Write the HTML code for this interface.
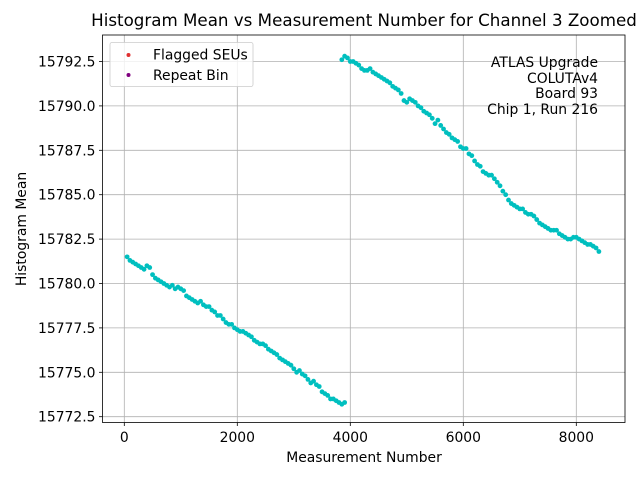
<!DOCTYPE html>
<html><head><meta charset="utf-8"><style>
body{margin:0;background:#fff;font-family:"DejaVu Sans","Liberation Sans",sans-serif;}
svg text{font-family:"DejaVu Sans","Liberation Sans",sans-serif;}
</style></head><body>
<svg id="chart" width="640" height="480" xmlns="http://www.w3.org/2000/svg" style="position:absolute;left:0;top:0">
<rect width="640" height="480" fill="#fff"/>
<g id="grid"></g><g id="marks"></g><g id="axes"></g>
</svg>
<script>
const xTicks=[0,2000,4000,6000,8000];
const xTickLabels=["0","2000","4000","6000","8000"];
const yTicks=[15772.5,15775.0,15777.5,15780.0,15782.5,15785.0,15787.5,15790.0,15792.5];
const yTickLabels=["15772.5","15775.0","15777.5","15780.0","15782.5","15785.0","15787.5","15790.0","15792.5"];
const seg1X=[50,100,150,200,250,300,350,400,450,500,550,600,650,700,750,800,850,900,950,1000,1050,1100,1150,1200,1250,1300,1350,1400,1450,1500,1550,1600,1650,1700,1750,1800,1850,1900,1950,2000,2050,2100,2150,2200,2250,2300,2350,2400,2450,2500,2550,2600,2650,2700,2750,2800,2850,2900,2950,3000,3050,3100,3150,3200,3250,3300,3350,3400,3450,3500,3550,3600,3650,3700,3750,3800,3850,3900];
const seg1Y=[15781.5,15781.3,15781.2,15781.1,15781.0,15780.9,15780.8,15781.0,15780.9,15780.5,15780.3,15780.2,15780.1,15780.0,15779.9,15779.8,15779.9,15779.7,15779.8,15779.7,15779.6,15779.3,15779.2,15779.1,15779.0,15778.9,15779.0,15778.8,15778.7,15778.7,15778.5,15778.4,15778.2,15778.2,15778.0,15777.8,15777.7,15777.7,15777.5,15777.4,15777.3,15777.3,15777.2,15777.1,15777.0,15776.8,15776.7,15776.6,15776.6,15776.5,15776.3,15776.2,15776.1,15776.0,15775.8,15775.7,15775.6,15775.5,15775.4,15775.2,15775.0,15775.1,15774.9,15774.8,15774.6,15774.4,15774.5,15774.3,15774.2,15773.9,15773.8,15773.7,15773.5,15773.5,15773.4,15773.3,15773.2,15773.3];
const seg2X=[3850,3900,3950,4000,4050,4100,4150,4200,4250,4300,4350,4400,4450,4500,4550,4600,4650,4700,4750,4800,4850,4900,4950,5000,5050,5100,5150,5200,5250,5300,5350,5400,5450,5500,5550,5600,5650,5700,5750,5800,5850,5900,5950,6000,6050,6100,6150,6200,6250,6300,6350,6400,6450,6500,6550,6600,6650,6700,6750,6800,6850,6900,6950,7000,7050,7100,7150,7200,7250,7300,7350,7400,7450,7500,7550,7600,7650,7700,7750,7800,7850,7900,7950,8000,8050,8100,8150,8200,8250,8300,8350,8400];
const seg2Y=[15792.6,15792.8,15792.7,15792.5,15792.5,15792.4,15792.3,15792.1,15792.0,15792.0,15792.1,15791.9,15791.8,15791.7,15791.6,15791.5,15791.4,15791.3,15791.1,15791.0,15790.9,15790.7,15790.3,15790.2,15790.4,15790.3,15790.2,15790.0,15789.9,15789.7,15789.6,15789.5,15789.3,15789.0,15789.2,15788.9,15788.7,15788.5,15788.4,15788.2,15788.1,15788.0,15787.7,15787.6,15787.6,15787.3,15787.2,15786.9,15786.7,15786.6,15786.3,15786.2,15786.1,15786.1,15785.9,15785.7,15785.5,15785.2,15785.0,15784.7,15784.5,15784.4,15784.3,15784.2,15784.2,15784.0,15783.9,15783.9,15783.8,15783.6,15783.4,15783.3,15783.2,15783.1,15783.0,15783.0,15783.0,15782.8,15782.7,15782.6,15782.5,15782.5,15782.6,15782.6,15782.5,15782.4,15782.3,15782.2,15782.2,15782.1,15782.0,15781.8];

const NS="http://www.w3.org/2000/svg";
const L=102.5,R=625,T=35,B=422.5;
function xs(v){return 124.3+(v-0)*(237.3-124.3)/2000;}
function ys(v){return 416.7-(v-15772.5)*(416.7-61.5)/20;}
function mk(tag,attrs,parent){const e=document.createElementNS(NS,tag);for(const k in attrs)e.setAttribute(k,attrs[k]);parent.appendChild(e);return e;}
const grid=document.getElementById('grid'),marks=document.getElementById('marks'),axes=document.getElementById('axes');
xTicks.forEach((t,i)=>{
  const g=mk('line',{x1:xs(t),x2:xs(t),y1:T,y2:B,stroke:'#b0b0b0','stroke-width':0.8},grid);
  
  
  const tk=mk('line',{x1:xs(t),x2:xs(t),y1:B,y2:B+3.5,stroke:'#000','stroke-width':0.8},axes);
  
  
  const tx=mk('text',{x:xs(t),y:B+19.5,'font-size':13.9,'text-anchor':'middle',fill:'#000'},axes);
  tx.textContent=xTickLabels[i];
  
  
});
yTicks.forEach((t,i)=>{
  const g=mk('line',{x1:L,x2:R,y1:ys(t),y2:ys(t),stroke:'#b0b0b0','stroke-width':0.8},grid);
  
  
  const tk=mk('line',{x1:L-3.5,x2:L,y1:ys(t),y2:ys(t),stroke:'#000','stroke-width':0.8},axes);
  
  
  const tx=mk('text',{x:L-7,y:ys(t)+5,'font-size':13.9,'text-anchor':'end',fill:'#000'},axes);
  tx.textContent=yTickLabels[i];
  
  
});
[[seg1X,seg1Y],[seg2X,seg2Y]].forEach(([X,Y])=>{
  X.forEach((x,i)=>{
    const c=mk('circle',{cx:xs(x),cy:ys(Y[i]),r:2.4,fill:'#00bfbf'},marks);
    
    
  });
});
const fr=mk('rect',{x:L,y:T,width:R-L,height:B-T,fill:'none',stroke:'#000','stroke-width':0.8},axes);


</script>
<svg style="position:absolute;left:0;top:0" width="640" height="480" xmlns="http://www.w3.org/2000/svg">
<text x="364" y="26" font-size="16.7" text-anchor="middle">Histogram Mean vs Measurement Number for Channel 3 Zoomed</text>
<text x="364" y="462" font-size="13.9" text-anchor="middle">Measurement Number</text>
<text transform="translate(26,229) rotate(-90)" font-size="13.9" text-anchor="middle">Histogram Mean</text>
<g>
<rect x="110" y="42.5" width="143" height="44" rx="2" fill="#fff" fill-opacity="0.8" stroke="#ccc" stroke-width="0.8"/>
<circle cx="128.5" cy="55" r="2" fill="#e03030"/>
<text x="153" y="59.5" font-size="13.9">Flagged SEUs</text>
<circle cx="128.5" cy="75" r="2" fill="#800080"/>
<text x="153" y="80" font-size="13.9">Repeat Bin</text>
</g>
<g font-size="13.9" text-anchor="end">
<text x="598" y="67">ATLAS Upgrade</text>
<text x="598" y="83">COLUTAv4</text>
<text x="598" y="98">Board 93</text>
<text x="598" y="114">Chip 1, Run 216</text>
</g>
</svg>
</body></html>
